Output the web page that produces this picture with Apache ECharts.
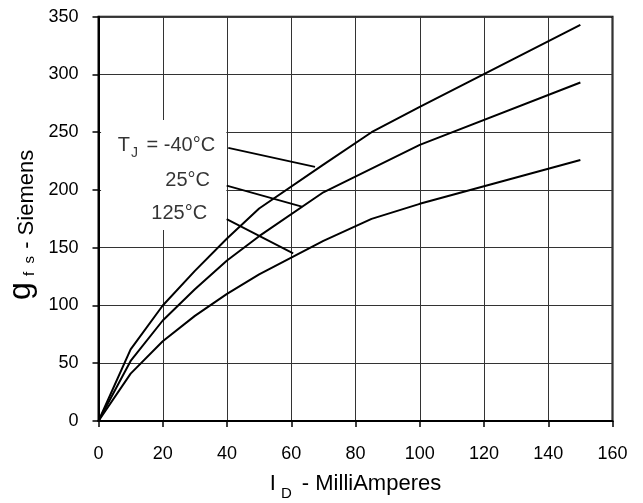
<!DOCTYPE html>
<html>
<head>
<meta charset="utf-8">
<script src="https://cdn.jsdelivr.net/npm/echarts@6/dist/echarts.min.js"></script>
<style>
html,body{margin:0;padding:0;background:#fff;}
#c{width:643px;height:503px;}
</style>
</head>
<body>
<div id="c"></div>
<script>
// ---- data ----
const xTicks = [0, 20, 40, 60, 80, 100, 120, 140, 160];
const yTicks = [0, 50, 100, 150, 200, 250, 300, 350];

const idNeg40 = [0, 10, 20, 30, 40, 50, 70, 85, 100, 150];
const gfsNeg40 = [0, 62, 100, 130, 158, 184, 222, 250, 272, 343];

const id25 = [0, 10, 20, 30, 40, 50, 70, 100, 150];
const gfs25 = [0, 52, 87, 114, 139, 160, 198, 239, 293];

const id125 = [0, 10, 20, 30, 40, 50, 70, 85, 100, 150];
const gfs125 = [0, 41, 69, 91, 110, 127, 156, 175, 188, 226];

const labelNames = ['neg40', 't25', 't125'];
const labelX = [36.3, 34.7, 33.8];
const labelY = [239, 209.5, 180.5];
const leaderX1 = [40.4, 39.9, 39.9];
const leaderY1 = [236.5, 203.7, 174.8];
const leaderX2 = [67.4, 63.3, 60.6];
const leaderY2 = [220, 185.5, 145.1];

const maskX = [0.8, 39.8];
const maskY = [165.3, 260.5];

// ---- chart ----
const FONT = 'Liberation Sans, Arial, sans-serif';
const chart = echarts.init(document.getElementById('c'), null, {renderer: 'canvas'});

function pairs(xs, ys) { return xs.map((x, i) => [x, ys[i]]); }

const curveStyle = {color: '#000', width: 2};
const series = [
  {type: 'line', name: '-40', data: pairs(idNeg40, gfsNeg40), symbol: 'none', lineStyle: curveStyle, z: 3,
    markArea: {silent: true, itemStyle: {color: '#fff'}, data: [[{coord: [maskX[0], maskY[0]]}, {coord: [maskX[1], maskY[1]]}]]}},
  {type: 'line', name: '25', data: pairs(id25, gfs25), symbol: 'none', lineStyle: curveStyle, z: 3},
  {type: 'line', name: '125', data: pairs(id125, gfs125), symbol: 'none', lineStyle: curveStyle, z: 3}
];
for (let i = 0; i < 3; i++) {
  series.push({type: 'line', data: [[leaderX1[i], leaderY1[i]], [leaderX2[i], leaderY2[i]]],
    symbol: 'none', lineStyle: {color: '#000', width: 1.8}, z: 4, silent: true});
}
const labelFormat = {
  neg40: '{n|T}{s|J}{n| = -40°C}',
  t25: '{n|25°C}',
  t125: '{n|125°C}'
};
series.push({
  type: 'scatter', symbolSize: 0, z: 5, silent: true,
  data: labelNames.map((k, i) => ({value: [labelX[i], labelY[i]], key: k})),
  label: {
    show: true, position: 'left', distance: 0,
    formatter: p => labelFormat[p.data.key],
    rich: {
      n: {fontFamily: FONT, fontSize: 20, color: '#000', verticalAlign: 'bottom', lineHeight: 22},
      s: {fontFamily: FONT, fontSize: 14, color: '#000', verticalAlign: 'bottom', lineHeight: 18, padding: [0, 3, -4, 1]}
    }
  }
});

chart.setOption({
  animation: false,
  backgroundColor: '#fff',
  grid: {left: 98.5, right: 30.5, top: 16.7, bottom: 82, outerBoundsMode: 'none', containLabel: false,
    show: true, borderColor: '#000', borderWidth: 2, backgroundColor: 'transparent'},
  xAxis: {
    type: 'value', min: xTicks[0], max: xTicks[xTicks.length - 1], interval: xTicks[1] - xTicks[0],
    axisLine: {show: true, onZero: false, lineStyle: {color: '#000', width: 2}},
    axisTick: {show: true, length: 6, lineStyle: {color: '#000', width: 1.5}},
    axisLabel: {margin: 24, fontFamily: FONT, fontSize: 18, color: '#000'},
    splitLine: {show: true, lineStyle: {color: '#333', width: 1}},
    name: '{i|I}{s|D}{n| - MilliAmperes}', nameLocation: 'middle', nameGap: 48,
    nameTextStyle: {
      rich: {
        i: {fontFamily: FONT, fontSize: 22, color: '#000', verticalAlign: 'bottom', lineHeight: 26},
        s: {fontFamily: FONT, fontSize: 15, color: '#000', verticalAlign: 'bottom', lineHeight: 20, padding: [0, 4, -6, 5]},
        n: {fontFamily: FONT, fontSize: 22, color: '#000', verticalAlign: 'bottom', lineHeight: 26}
      }
    }
  },
  yAxis: {
    type: 'value', min: yTicks[0], max: yTicks[yTicks.length - 1], interval: yTicks[1] - yTicks[0],
    axisLine: {show: true, onZero: false, lineStyle: {color: '#000', width: 2}},
    axisTick: {show: true, length: 6, lineStyle: {color: '#000', width: 1.5}},
    axisLabel: {margin: 20, fontFamily: FONT, fontSize: 18, color: '#000'},
    splitLine: {show: true, lineStyle: {color: '#333', width: 1}},
    name: '{g|g}{s| f  s}{n| - Siemens}', nameLocation: 'middle', nameGap: 60, nameRotate: 90,
    nameTextStyle: {
      padding: [0, 0, 0, -12],
      rich: {
        g: {fontFamily: FONT, fontSize: 32, color: '#000', verticalAlign: 'bottom', lineHeight: 34, padding: [0, 2, 0, 0]},
        s: {fontFamily: FONT, fontSize: 15, color: '#000', verticalAlign: 'bottom', lineHeight: 24, padding: [0, 1, 0, 0]},
        n: {fontFamily: FONT, fontSize: 22, color: '#000', verticalAlign: 'bottom', lineHeight: 28}
      }
    }
  },
  series: series
});
</script>
</body>
</html>
